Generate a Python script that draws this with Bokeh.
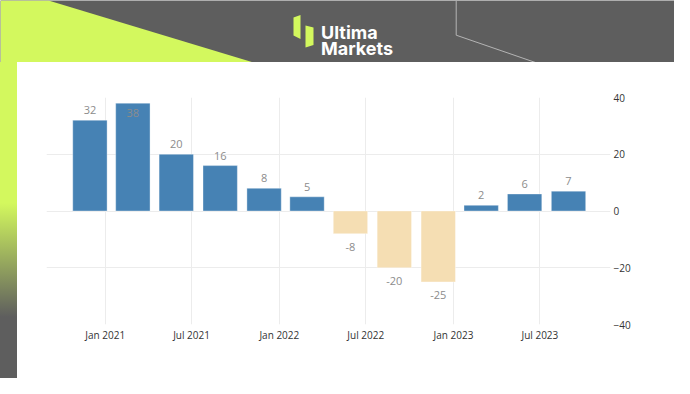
import pandas as pd
from bokeh.plotting import figure
from bokeh.layouts import column, row
from bokeh.models import (ColumnDataSource, Range1d, FixedTicker, DatetimeTickFormatter, LabelSet, Div)
from bokeh.core.properties import value
from bokeh.embed import file_html
from bokeh.resources import INLINE

# ---------------- data ----------------
quarters = ["2020-12-31", "2021-03-31", "2021-06-30", "2021-09-30", "2021-12-31", "2022-03-31",
            "2022-06-30", "2022-09-30", "2022-12-31", "2023-03-31", "2023-06-30", "2023-09-30"]
values = [32, 38, 20, 16, 8, 5, -8, -20, -25, 2, 6, 7]
x_tick_dates = ["2021-01-01", "2021-07-01", "2022-01-01", "2022-07-01", "2023-01-01", "2023-07-01"]
y_ticks = [-40, -20, 0, 20, 40]
brand_lines = ["Ultima", "Markets"]

# ---------------- styles ----------------
POS = "#4682b4"
NEG = "#f5deb3"
LIME = "#d3f85e"
GRAY = "#5e5e5e"
LINE = "#b4b4b4"

W, H = 674, 378
TOP_H = 62
LEFT_W = 17


def deco_fig(w, h, x0, y0):
    f = figure(width=w, height=h, x_range=Range1d(x0, x0 + w), y_range=Range1d(y0 + h, y0),
               output_backend="svg", toolbar_location=None, min_border=0,
               x_axis_location=None, y_axis_location=None)
    f.xgrid.visible = False
    f.ygrid.visible = False
    f.background_fill_color = GRAY
    f.border_fill_color = GRAY
    f.outline_line_color = None
    return f


# ---------------- top band (logo) ----------------
top = deco_fig(W, TOP_H, 0, 0)
top.patch([0, 48, 253, 0], [0, 0, 62, 62], fill_color=LIME, line_color=None)
top.line([455.7, 455.7, 535], [0, 34.7, 62], line_color=LINE, line_width=1)
top.patch([293, 300, 300, 293], [17, 14.5, 38.5, 35], fill_color=LIME, line_color=None)
top.patch([305, 313, 313, 305], [25, 27, 44.5, 47], fill_color=LIME, line_color=None)
top.text(x=[320.5, 320.5], y=[31.7, 47.7], text=brand_lines, text_color="white",
         text_font=value("Inter"), text_font_size=value("18px"), text_font_style="bold",
         text_baseline="alphabetic", text_align="left")

# ---------------- left strip (gradient) ----------------
left = Div(text="", width=LEFT_W, height=H - TOP_H, margin=0,
           styles={"background": f"linear-gradient(to bottom, {LIME} 0px, {LIME} {203 - TOP_H}px, "
                                 f"{GRAY} {317 - TOP_H}px, {GRAY} 100%)"})

# ---------------- chart ----------------
FL, FR, FT, FB = 46, 610, 97, 324   # frame box in picture pixels
MW, MH = W - LEFT_W, H - TOP_H

dates = pd.to_datetime(quarters) - pd.Timedelta(days=31)
labels = [str(v) for v in values]
colors = [POS if v >= 0 else NEG for v in values]
ymax = max(y_ticks)
yoff = [(-10 if v > 0.85 * ymax else 10) if v >= 0 else -13 for v in values]
src = ColumnDataSource(dict(x=dates, v=values, c=colors, lab=labels, yoff=yoff))

x0 = pd.Timestamp(x_tick_dates[0]) - pd.Timedelta(days=123)
x1 = pd.Timestamp(x_tick_dates[0]) + pd.Timedelta(days=1059)

p = figure(width=MW, height=MH, x_axis_type="datetime", y_axis_location="right",
           x_range=Range1d(x0, x1), y_range=Range1d(min(y_ticks), max(y_ticks)),
           output_backend="svg", toolbar_location=None,
           min_border_left=FL - LEFT_W, min_border_right=W - FR,
           min_border_top=FT - TOP_H, min_border_bottom=H - FB)
p.border_fill_color = "white"
p.background_fill_color = "white"
p.outline_line_color = None

p.vbar(x="x", top="v", bottom=0, width=pd.Timedelta(days=72).total_seconds() * 1000,
       source=src, fill_color="c", line_color="white", line_alpha=0.35, line_width=1)

p.add_layout(LabelSet(x="x", y="v", text="lab", y_offset="yoff", source=src,
                      text_align="center", text_baseline="middle",
                      text_font=value("Open Sans"), text_font_size=value("11px"),
                      text_color="#8c8c8c"))

xt = [pd.Timestamp(d).value // 10**6 for d in x_tick_dates]
p.xaxis.ticker = FixedTicker(ticks=xt)
p.xgrid.ticker = FixedTicker(ticks=xt)
fmt = "%b %Y"
p.xaxis.formatter = DatetimeTickFormatter(days=fmt, months=fmt, years=fmt, hours=fmt)
p.yaxis.ticker = FixedTicker(ticks=y_ticks)

for ax in (p.xaxis, p.yaxis):
    ax.axis_line_color = None
    ax.major_tick_line_color = None
    ax.minor_tick_line_color = None
    ax.major_tick_in = 0
    ax.major_tick_out = 0
    ax.major_label_text_font = "Open Sans"
    ax.major_label_text_font_size = "10px"
    ax.major_label_text_color = "#333333"
p.yaxis.major_label_standoff = 3
p.xaxis.major_label_standoff = 3

p.xgrid.grid_line_color = "#ececec"
p.ygrid.grid_line_color = "#ececec"

layout = column(top, row(left, p, spacing=0), spacing=0)
open("out.html", "w").write(file_html(layout, INLINE))
